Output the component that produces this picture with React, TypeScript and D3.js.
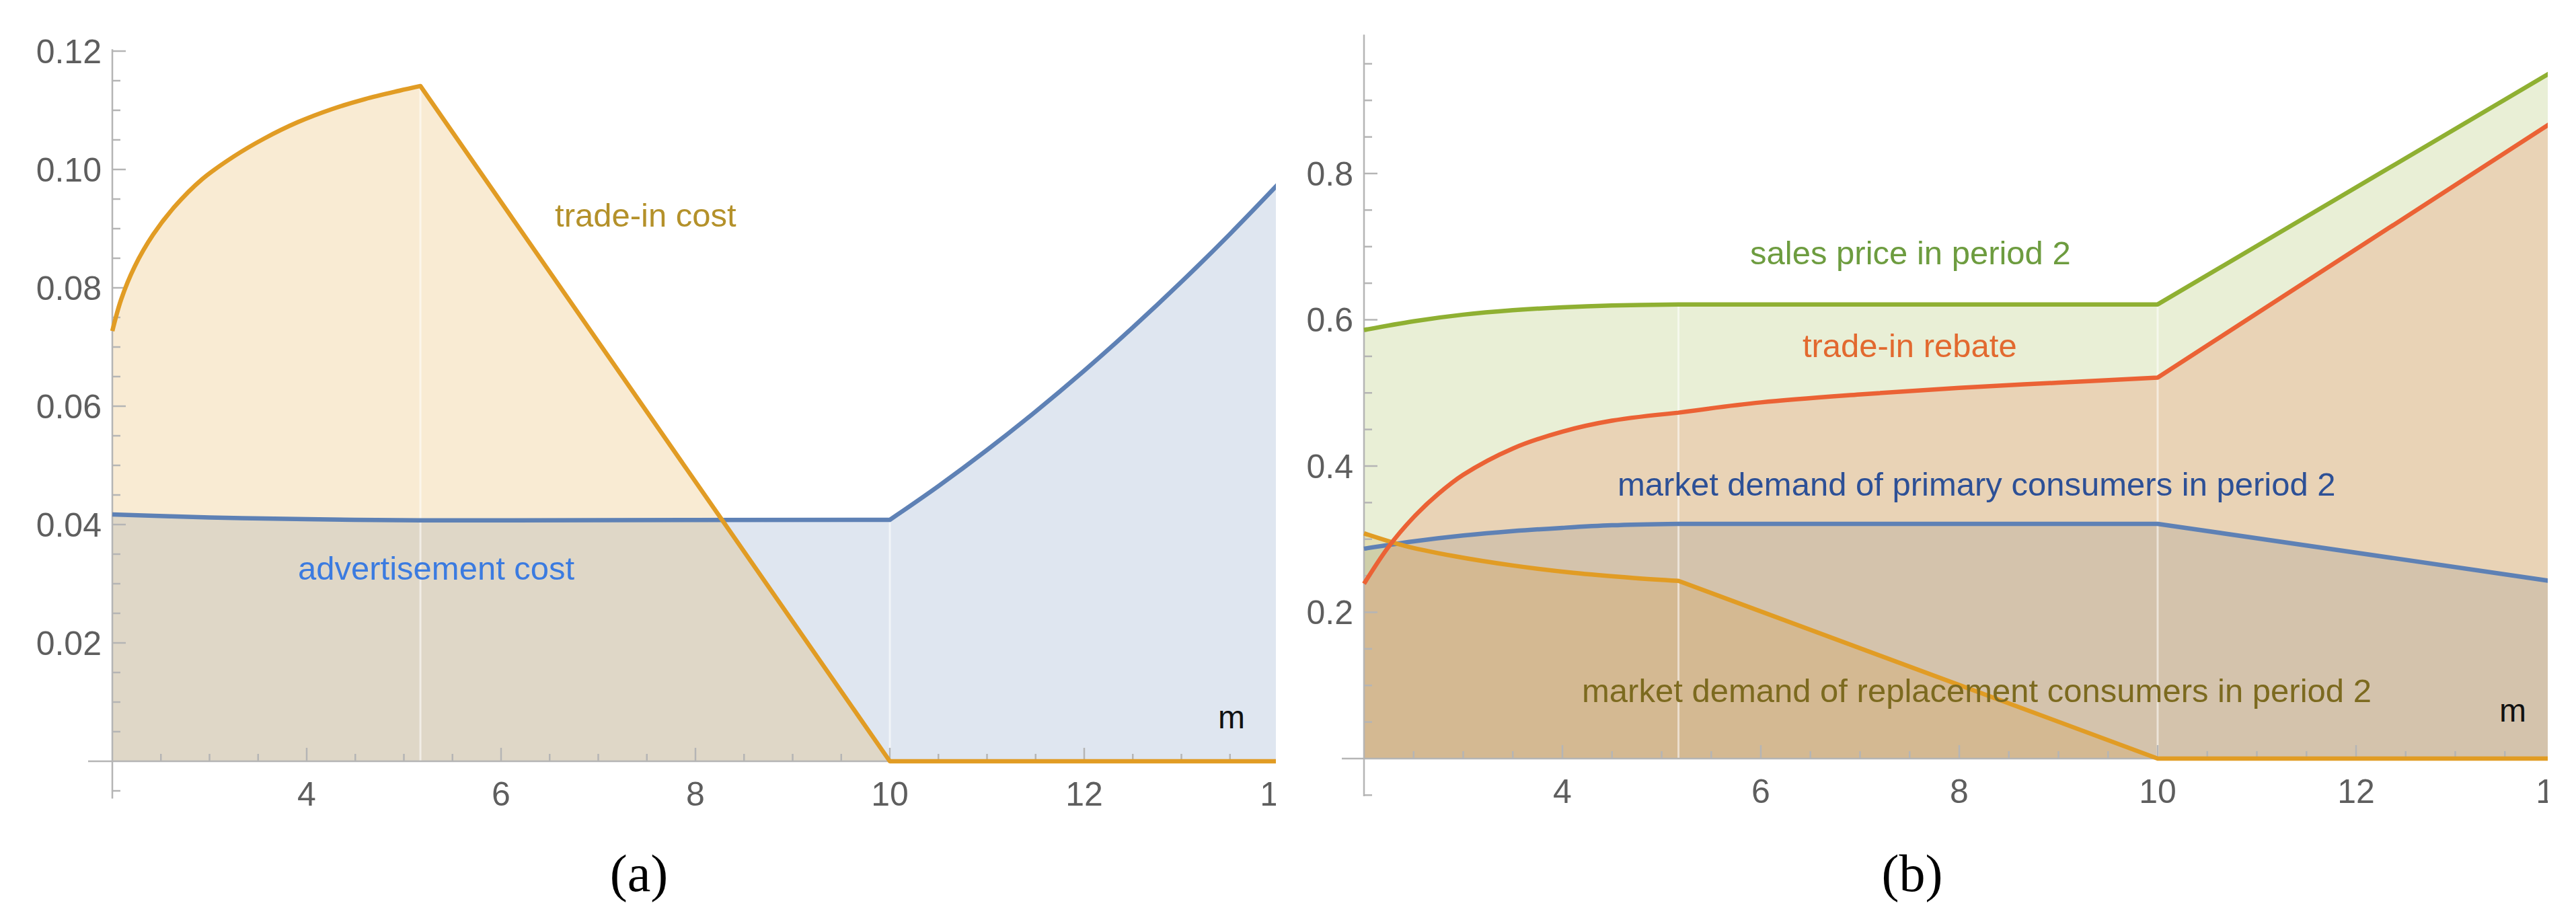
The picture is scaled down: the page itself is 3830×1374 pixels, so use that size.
import React from "react";
import * as d3 from "d3";

const W = 3830;
const H = 1374;
const FONT = "'Liberation Sans', Arial, Helvetica, sans-serif";

// Mathematica default palette
const BLUE = "#5e81b5";
const ORANGE = "#e19c24";
const GREEN = "#8fb032";
const RED = "#eb6235";

// ---- panel (a): costs vs m
const tradeInCostM = [2, 2.09, 2.23, 2.42, 2.64, 2.92, 3.25, 3.56, 3.91, 4.26, 4.6, 4.95, 5.17, 10, 14];
const tradeInCost = [0.0727, 0.078, 0.0836, 0.089, 0.0937, 0.0983, 0.1022, 0.1052, 0.108, 0.1102, 0.1119, 0.1133, 0.1141, 0, 0];
const advCostM = [2, 3, 4, 5.17, 10, 10.5, 11, 11.5, 12, 12.5, 13, 13.5, 14];
const advCost = [0.0417, 0.0412, 0.0409, 0.0407, 0.0408, 0.0465, 0.0526, 0.0591, 0.066, 0.0733, 0.081, 0.0891, 0.0976];

// ---- panel (b): prices and demands vs m
const primaryM = [2, 2.5, 3, 3.5, 4, 4.5, 5.17, 10, 14];
const primaryDemand = [0.287, 0.297, 0.305, 0.311, 0.3155, 0.319, 0.321, 0.321, 0.242];
const replacementM = [2, 2.41, 2.9, 3.5, 4.11, 4.72, 5.17, 10, 14];
const replacementDemand = [0.308, 0.291, 0.277, 0.264, 0.254, 0.247, 0.243, 0, 0];
const salesM = [2, 2.5, 3, 3.5, 4, 4.5, 5.17, 10, 14];
const salesPrice = [0.586, 0.598, 0.607, 0.613, 0.617, 0.6195, 0.621, 0.621, 0.941];
const rebateM = [2, 2.25, 2.5, 2.75, 3, 3.5, 4, 4.5, 5.17, 6, 7, 8, 9, 10, 14];
const rebate = [0.239, 0.29, 0.33, 0.362, 0.388, 0.424, 0.447, 0.462, 0.473, 0.487, 0.498, 0.507, 0.514, 0.521, 0.872];

const xMajorTicks = [4, 6, 8, 10, 12, 14];
const yMajorA = [0.02, 0.04, 0.06, 0.08, 0.1, 0.12];
const yMajorB = [0.2, 0.4, 0.6, 0.8];
// regime switches where every curve has a kink
const breakpoints = [5.17, 10];

const xA = d3.scaleLinear().domain([2, 14]).range([167, 1901]);
const yA = d3.scaleLinear().domain([0, 0.12]).range([1132, 76]);
const xB = d3.scaleLinear().domain([2, 14]).range([2028, 3798]);
const yB = d3.scaleLinear().domain([0, 1]).range([1128, 40.5]);

type Series = { m: number[]; v: number[]; color: string };

// smooth inside each regime, sharp corner at the breakpoints
function piecewisePath(s: Series, x: any, y: any) {
  const pts = s.m.map((mm, i) => [mm, s.v[i]] as [number, number]);
  const cuts = [2, ...breakpoints, 14];
  const gen = d3.line<[number, number]>().x(d => x(d[0])).y(d => y(d[1])).curve(d3.curveCatmullRom.alpha(0.5));
  let d = "";
  for (let k = 0; k < cuts.length - 1; k++) {
    const seg = pts.filter(p => p[0] >= cuts[k] - 1e-9 && p[0] <= cuts[k + 1] + 1e-9);
    if (seg.length < 2) continue;
    const part = gen(seg) || "";
    d += d === "" ? part : "L" + part.slice(1);
  }
  return d;
}

const Panel = ({ id, x, y, series, seamTops, clipL, clipR, xLeft, yBot, yTop, yMajor, yStep, yFmt, children }: any) => {
  const x0 = x(2);
  const y0 = y(0);
  const xMinor = d3.range(2.5, 14.01, 0.5).filter(t => !xMajorTicks.includes(t));
  const yMinor = d3.range(-1, Math.round(yTop / yStep) + 1)
    .map(k => k * yStep)
    .filter(t => Math.abs(t) > 1e-9 && !yMajor.some((mj: number) => Math.abs(mj - t) < 1e-9) && t <= yTop + 1e-9);
  const axisCol = "#b5b5b5";
  const labelCol = "#5e5e5e";
  return (
    <g>
      <defs>
        <clipPath id={id}>
          <rect x={clipL} y={0} width={clipR - clipL} height={H} />
        </clipPath>
      </defs>
      <g clipPath={`url(#${id})`}>
        {series.map((s: Series, i: number) => (
          <path key={"f" + i}
            d={piecewisePath(s, x, y) + `L${x(s.m[s.m.length - 1])},${y0}L${x(s.m[0])},${y0}Z`}
            fill={s.color} fillOpacity={0.2} stroke="none" />
        ))}
        {breakpoints.map((b, i) => (
          <line key={"s" + i} x1={x(b)} x2={x(b)} y1={y(seamTops[i])} y2={y0}
            stroke="#ffffff" strokeOpacity={0.55} strokeWidth={3} />
        ))}
        {/* axes */}
        <line x1={xLeft} x2={x(14) + 20} y1={y0} y2={y0} stroke={axisCol} strokeWidth={2.5} />
        <line x1={x0} x2={x0} y1={y(yBot)} y2={y(yTop)} stroke={axisCol} strokeWidth={2.5} />
        {xMajorTicks.map(t => (
          <line key={"xM" + t} x1={x(t)} x2={x(t)} y1={y0} y2={y0 - 20} stroke={axisCol} strokeWidth={2.5} />
        ))}
        {xMinor.map(t => (
          <line key={"xm" + t} x1={x(t)} x2={x(t)} y1={y0} y2={y0 - 11} stroke={axisCol} strokeWidth={2.5} />
        ))}
        {yMajor.map((t: number) => (
          <line key={"yM" + t} x1={x0} x2={x0 + 20} y1={y(t)} y2={y(t)} stroke={axisCol} strokeWidth={2.5} />
        ))}
        {yMinor.map((t: number) => (
          <line key={"ym" + t} x1={x0} x2={x0 + 12} y1={y(t)} y2={y(t)} stroke={axisCol} strokeWidth={2.5} />
        ))}
        {/* curves */}
        {series.map((s: Series, i: number) => (
          <path key={"l" + i} d={piecewisePath(s, x, y)} fill="none" stroke={s.color} strokeWidth={6.5}
            strokeLinejoin="round" />
        ))}
        {xMajorTicks.map(t => (
          <text key={"xl" + t} x={x(t)} y={y0 + 66} textAnchor="middle" fontFamily={FONT} fontSize={50}
            fill={labelCol}>{t}</text>
        ))}
      </g>
      {yMajor.map((t: number) => (
        <text key={"yl" + t} x={x0 - 16} y={y(t)} dy="0.35em" textAnchor="end" fontFamily={FONT} fontSize={50}
          fill={labelCol}>{yFmt(t)}</text>
      ))}
      {children}
    </g>
  );
};

const Label = ({ x, y, color, text, anchor = "start", size = 49 }: any) => (
  <text x={x} y={y} fill={color} fontFamily={FONT} fontSize={size} textAnchor={anchor}>{text}</text>
);

export default function App() {
  const seriesA: Series[] = [
    { m: advCostM, v: advCost, color: BLUE },
    { m: tradeInCostM, v: tradeInCost, color: ORANGE },
  ];
  const seriesB: Series[] = [
    { m: primaryM, v: primaryDemand, color: BLUE },
    { m: replacementM, v: replacementDemand, color: ORANGE },
    { m: salesM, v: salesPrice, color: GREEN },
    { m: rebateM, v: rebate, color: RED },
  ];
  return (
    <svg width={W} height={H} viewBox={`0 0 ${W} ${H}`}
      style={{ position: "absolute", left: 0, top: 0, background: "#fff" }}>
      <rect width={W} height={H} fill="#fff" />
      <Panel id="clipA" x={xA} y={yA} series={seriesA} seamTops={[0.1141, 0.0408]}
        clipL={0} clipR={1897} xLeft={131} yBot={-0.0063} yTop={0.1203} yMajor={yMajorA} yStep={0.005}
        yFmt={d3.format(".2f")}>
        <Label x={xA(6.554)} y={yA(0.0903)} color="#b4912a" text="trade-in cost" />
        <Label x={xA(3.91)} y={yA(0.0307)} color="#3b7be0" text="advertisement cost" />
        <Label x={xA(13.516)} y={yA(0.0056)} color="#111" text="m" anchor="middle" size={48} />
      </Panel>
      <Panel id="clipB" x={xB} y={yB} series={seriesB} seamTops={[0.621, 0.621]}
        clipL={1950} clipR={3788} xLeft={1995} yBot={-0.0515} yTop={0.99} yMajor={yMajorB} yStep={0.05}
        yFmt={d3.format(".1f")}>
        <Label x={xB(5.892)} y={yB(0.676)} color="#6d9c3f" text="sales price in period 2" />
        <Label x={xB(6.42)} y={yB(0.549)} color="#e2692f" text="trade-in rebate" />
        <Label x={xB(4.556)} y={yB(0.3595)} color="#2d5096" text="market demand of primary consumers in period 2" />
        <Label x={xB(4.197)} y={yB(0.0772)} color="#7c6a1f" text="market demand of replacement consumers in period 2" />
        <Label x={xB(13.58)} y={yB(0.0506)} color="#111" text="m" anchor="middle" size={48} />
      </Panel>
      <text x={xA(7.419)} y={1325} textAnchor="middle" fontFamily="'Liberation Serif', 'Times New Roman', serif"
        fontSize={78} fill="#000">(a)</text>
      <text x={xB(7.525)} y={1325} textAnchor="middle" fontFamily="'Liberation Serif', 'Times New Roman', serif"
        fontSize={78} fill="#000">(b)</text>
    </svg>
  );
}
